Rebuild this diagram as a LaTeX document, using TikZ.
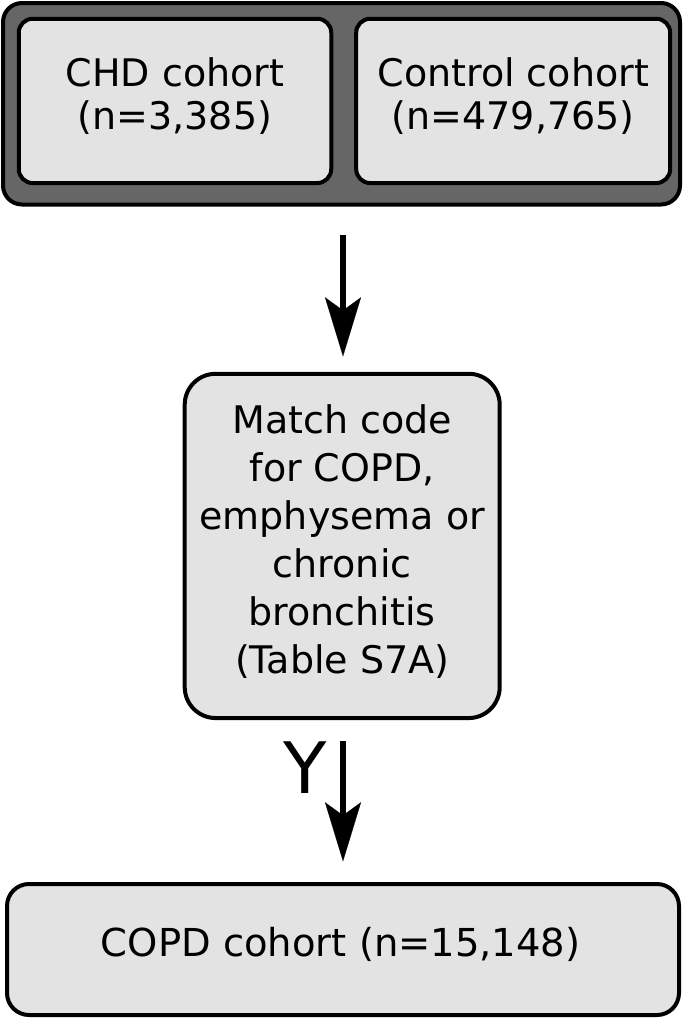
\documentclass[tikz,border=0pt]{standalone}
\usepackage{fontspec}
\setmainfont{DejaVu Sans}
\usetikzlibrary{arrows.meta}
\definecolor{boxgray}{HTML}{E3E3E3}
\definecolor{darkgray}{HTML}{666666}
\begin{document}
\begin{tikzpicture}[x=1pt,y=-1pt,
  box/.style={draw=black, line width=4pt, fill=boxgray, inner sep=0pt, rectangle},
  outerbox/.style={draw=black, line width=4pt, fill=darkgray, inner sep=0pt, rectangle, rounded corners=19pt},
  txt/.style={inner sep=0pt, align=center, anchor=base},
  arr/.style={line width=6pt, -{Stealth[length=59pt, width=36pt, inset=13pt, line width=0.1pt]}},
]
\useasboundingbox (0,0) rectangle (685,1021);
\node[outerbox, minimum width=677pt, minimum height=201.5pt] (outer) at (341.5,103.75) {};
\node[box, rounded corners=14pt, minimum width=312.5pt, minimum height=164.3pt] (chd) at (175,100.9) {};
\node[box, rounded corners=14pt, minimum width=314pt, minimum height=164.3pt] (ctrl) at (513.2,100.9) {};
\node[box, rounded corners=31pt, minimum width=315pt, minimum height=344.3pt] (match) at (342.2,545.9) {};
\node[box, rounded corners=22pt, minimum width=672pt, minimum height=131pt] (copd) at (343,949.5) {};

\node[txt, font=\fontsize{38}{42.6}\selectfont] (chdtxt) at (chd.center |- 0,129.3) {CHD cohort\\(n=3,385)};
\node[txt, font=\fontsize{38}{42.6}\selectfont] (ctrltxt) at (ctrl.center |- 0,129.3) {Control cohort\\(n=479,765)};
\node[txt, font=\fontsize{38}{47.9}\selectfont] (matchtxt) at (match.center |- 0,673.3) {Match code\\for COPD,\\emphysema or\\chronic\\bronchitis\\(Table S7A)};
\node[txt, font=\fontsize{38.5}{46}\selectfont] (copdtxt) at (340.7,956.7) {COPD cohort (n=15,148)};

\draw[arr] ([xshift=1.5pt,yshift=-28.8pt]outer.south) -- ([xshift=1.5pt,yshift=15.4pt]outer.south |- match.north);
\draw[arr] ([xshift=0.8pt,yshift=-21pt]match.south) -- ([xshift=0.8pt,yshift=20.7pt]match.south |- copd.north);
\node[inner sep=0pt, font=\fontsize{71}{80}\selectfont] (ylab) at (305.5,768) {Y};
\end{tikzpicture}
\end{document}
